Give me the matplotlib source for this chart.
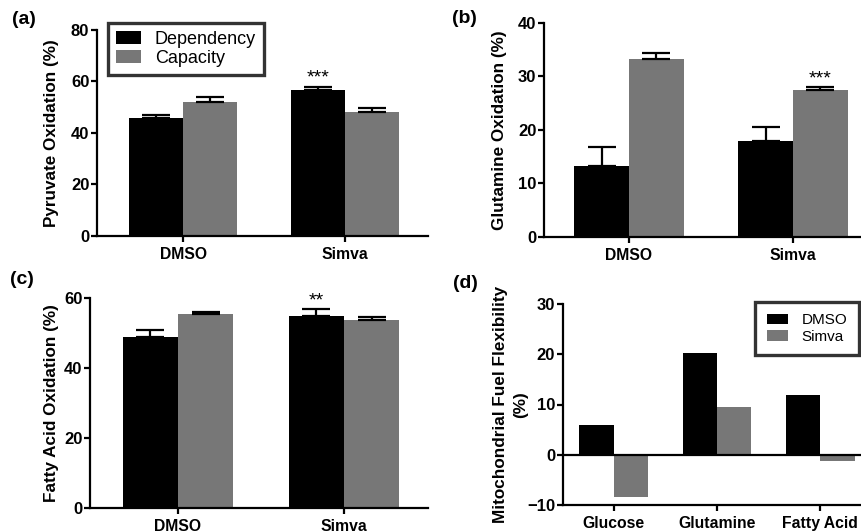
import matplotlib
matplotlib.use('Agg')
import matplotlib.pyplot as plt
import numpy as np

plt.rcParams['font.family'] = ['Liberation Sans', 'DejaVu Sans']
plt.rcParams['font.weight'] = 'bold'

groups = ['DMSO', 'Simva']
series = ['Dependency', 'Capacity']

pyr_dep = [46.0, 56.8]
pyr_dep_err = [0.9, 1.2]
pyr_cap = [52.2, 48.0]
pyr_cap_err = [1.8, 1.6]

gln_dep = [13.3, 17.8]
gln_dep_err = [3.5, 2.7]
gln_cap = [33.3, 27.4]
gln_cap_err = [1.0, 0.5]

fa_dep = [48.9, 54.9]
fa_dep_err = [1.9, 1.8]
fa_cap = [55.4, 53.6]
fa_cap_err = [0.6, 1.0]

fuels = ['Glucose', 'Glutamine', 'Fatty Acid']
flex_dmso = [6.0, 20.2, 11.8]
flex_simva = [-8.4, 9.5, -1.3]

BLACK = '#000000'
GRAY = '#777777'
W = 0.333

fig = plt.figure(figsize=(8.62, 5.31), dpi=100)

def px(l, r, t, b):
    return [l / 862, (531 - b) / 531, (r - l) / 862, (b - t) / 531]

def style(ax):
    for s in ['top', 'right']:
        ax.spines[s].set_visible(False)
    for s in ['left', 'bottom']:
        ax.spines[s].set_linewidth(1.6)
    ax.tick_params(direction='out', length=4, width=1.6, labelsize=12, pad=1.5)
    ax.tick_params(axis='x', labelsize=11.3, pad=4)
    for lab in ax.get_xticklabels() + ax.get_yticklabels():
        lab.set_fontweight('bold')

def oxidation(ax, dep, dep_err, cap, cap_err, ylim, yticks, ylabel, xlim):
    x = np.arange(len(groups))
    ekw = dict(ecolor='black', elinewidth=1.6, capsize=10, capthick=1.6)
    ax.bar(x - W / 2, dep, W, color=BLACK, label=series[0],
           yerr=[np.zeros(len(dep)), dep_err], error_kw=ekw)
    ax.bar(x + W / 2, cap, W, color=GRAY, label=series[1],
           yerr=[np.zeros(len(cap)), cap_err], error_kw=ekw)
    ax.set_xlim(*xlim)
    ax.set_ylim(*ylim)
    ax.set_yticks(yticks)
    ax.set_xticks(x)
    ax.set_xticklabels(groups)
    ax.set_ylabel(ylabel, fontsize=12.3, fontweight='bold')
    style(ax)
    return x

def stars(ax, xc, top, txt):
    ax.annotate(txt, (xc, top), xytext=(0, 0), textcoords='offset points',
                ha='center', va='bottom', fontsize=14, fontweight='normal')

# (a)
axa = fig.add_axes(px(97, 428, 30, 236))
x = oxidation(axa, pyr_dep, pyr_dep_err, pyr_cap, pyr_cap_err, (0, 80),
              [0, 20, 40, 60, 80], 'Pyruvate Oxidation (%)', (-0.531, 1.512))
stars(axa, x[1] - W / 2, pyr_dep[1] + pyr_dep_err[1], '***')
leg = axa.legend(loc='upper left', bbox_to_anchor=(0.033, 1.034), borderaxespad=0,
                 fancybox=False, edgecolor='black', prop={'size': 13, 'weight': 'normal'},
                 handlelength=1.4, handletextpad=0.75, borderpad=0.45, labelspacing=0.1)
leg.get_frame().set_linewidth(2.4)
axa.yaxis.set_label_coords(-0.115, 0.5)

# (b)
axb = fig.add_axes(px(544, 861, 22.7, 236.7))
x = oxidation(axb, gln_dep, gln_dep_err, gln_cap, gln_cap_err, (0, 40),
              [0, 10, 20, 30, 40], 'Glutamine Oxidation (%)', (-0.518, 1.415))
stars(axb, x[1] + W / 2, gln_cap[1] + gln_cap_err[1], '***')
axb.yaxis.set_label_coords(-0.117, 0.5)

# (c)
axc = fig.add_axes(px(90, 428, 297.7, 508.3))
x = oxidation(axc, fa_dep, fa_dep_err, fa_cap, fa_cap_err, (0, 60),
              [0, 20, 40, 60], 'Fatty Acid Oxidation (%)', (-0.53, 1.506))
stars(axc, x[1] - W / 2, fa_dep[1] + fa_dep_err[1], '**')
axc.yaxis.set_label_coords(-0.092, 0.5)

# (d)
axd = fig.add_axes(px(562.7, 861, 304, 505))
xd = np.arange(len(fuels))
axd.bar(xd - W / 2, flex_dmso, W, color=BLACK, label='DMSO')
axd.bar(xd + W / 2, flex_simva, W, color=GRAY, label='Simva')
axd.axhline(0, color='black', lw=1.6)
axd.set_xlim(-0.494, 2.394)
axd.set_ylim(-10, 30)
axd.set_yticks([-10, 0, 10, 20, 30])
axd.set_xticks(xd)
axd.set_xticklabels(fuels)
axd.set_ylabel('Mitochondrial Fuel Flexibility\n(%)', fontsize=12.3, fontweight='bold',
               linespacing=1.4)
style(axd)
axd.yaxis.set_label_coords(-0.117, 0.5)
legd = axd.legend(loc='upper left', bbox_to_anchor=(0.645, 1.01), borderaxespad=0,
                  fancybox=False, edgecolor='black', prop={'size': 11, 'weight': 'normal'},
                  handlelength=1.4, handletextpad=0.9, borderpad=0.75, labelspacing=0.15)
legd.get_frame().set_linewidth(2.4)

for lbl, (xx, yy) in zip(['(a)', '(b)', '(c)', '(d)'],
                         [(12, 11), (452, 10), (10, 271), (453, 275)]):
    fig.text(xx / 862, 1 - yy / 531, lbl, ha='left', va='top', fontsize=14,
             fontweight='bold')

fig.savefig('out.png', dpi=100)
